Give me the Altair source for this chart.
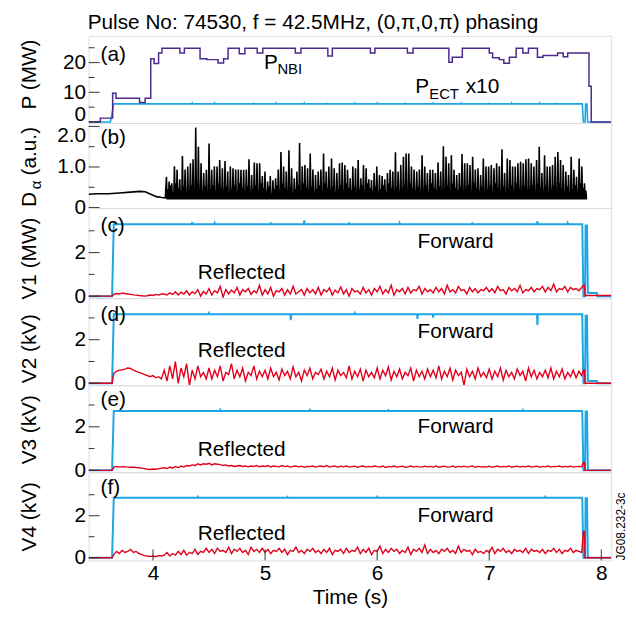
import altair as alt
import numpy as np
import pandas as pd

FONT = "Liberation Sans"
BLUE = "#1ba6e4"
PURPLE = "#4b2a8c"
RED = "#e2001c"
FRAME = "#333333"

X_DOMAIN = [3.426, 8.088]
X_TICKS = [4, 5, 6, 7, 8]
WIDTH = 528
HEIGHTS = [88, 86, 91, 88, 88, 89]

TITLE = "Pulse No: 74530, f = 42.5MHz, (0,π,0,π) phasing"
PANEL_LABELS = ["(a)", "(b)", "(c)", "(d)", "(e)", "(f)"]
PANEL_LABEL_Y = [19, 15, 18, 17, 15, 16]
Y_TITLES = ["P (MW)", None, "V1 (MW)", "V2 (kV)", "V3 (kV)", "V4 (kV)"]
Y_TITLE_Y = [39, 44, 51, 51, 45, 45]
Y_TITLE_X = -59
Y_DOMAINS = [[-0.33, 29.0], [-0.012, 2.085], [-0.09, 4.045],
             [-0.09, 3.91], [-0.09, 3.91], [-0.127, 4.07]]
Y_MAJOR = [[0, 10, 20], [0, 1, 2], [0, 2], [0, 2], [0, 2], [0, 2]]
Y_MINOR = [[5, 15, 25], [0.5, 1.5], [1, 3], [1, 3], [1, 3], [1, 3]]

# ---------------- (a) NBI power (step) and ECRH power x10 ----------------
nbi_t = [3.426, 3.53, 3.64, 3.67, 3.88, 3.93, 3.98, 4.01, 4.05, 4.08, 4.24, 4.28,
         4.42, 4.48, 4.58, 4.63, 4.67, 4.77, 4.82, 4.93, 4.98, 5.27, 5.32, 5.56,
         5.60, 5.94, 5.98, 6.27, 6.32, 6.64, 6.67, 6.76, 7.00, 7.03, 7.09, 7.13,
         7.18, 7.24, 7.30, 7.35, 7.43, 7.48, 7.61, 7.66, 7.70, 7.89, 7.91, 8.088]
nbi_v = [0.0, 1.3, 9.7, 8.0, 6.6, 8.0, 21.3, 19.7, 23.2, 24.8, 23.2, 24.8,
         21.3, 21.0, 19.9, 21.3, 24.8, 23.0, 24.8, 23.2, 24.8, 23.2, 24.8, 22.2,
         24.8, 23.2, 24.8, 23.2, 24.8, 20.1, 21.8, 24.8, 23.2, 21.6, 21.0, 19.8,
         21.8, 24.8, 23.2, 24.8, 21.8, 22.4, 23.2, 22.0, 23.2, 12.0, 0.0, 0.0]

ect_level = 6.1
ect_pre_t = [3.426, 3.62, 3.635]
ect_pre_v = [0.0, 0.0, 3.0]
ect_spike_t = [4.35, 4.55, 4.9, 5.1, 5.35, 5.55, 5.8, 6.0, 6.25, 6.5, 6.75, 7.0, 7.2, 7.45, 7.6]
ect_spike_v = [6.4, 6.4, 6.3, 6.4, 6.4, 6.3, 6.4, 6.4, 6.3, 6.4, 6.4, 6.3, 6.4, 6.4, 6.3]
ect_post_t = [7.84, 7.855, 7.86, 7.872, 7.878, 8.088]
ect_post_v = [0.0, 0.0, 6.0, 6.0, 0.0, 0.0]

# ---------------- (b) D-alpha ----------------
dal_pre_t = [3.426, 3.5, 3.6, 3.7, 3.8, 3.88, 3.93, 3.98, 4.03, 4.08, 4.11]
dal_pre_v = [0.33, 0.34, 0.34, 0.36, 0.38, 0.40, 0.39, 0.33, 0.27, 0.25, 0.24]
dal_spikes = [0.76, 0.64, 0.60, 1.02, 0.93, 0.70, 1.27, 0.94, 1.01, 1.09,
              1.19, 1.97, 1.50, 1.09, 0.85, 0.93, 1.58, 0.93, 1.02, 1.01,
              1.17, 0.97, 1.15, 0.89, 1.01, 0.97, 0.94, 0.94, 0.93, 0.93,
              0.94, 1.19, 0.80, 1.11, 1.09, 1.09, 0.78, 0.89, 0.64, 0.78,
              0.67, 0.72, 0.94, 1.37, 1.01, 0.89, 1.41, 0.97, 0.72, 0.89,
              1.59, 1.02, 1.05, 0.97, 1.33, 0.94, 0.80, 0.89, 0.94, 1.33,
              0.89, 1.01, 1.21, 0.97, 0.85, 1.09, 1.11,
              1.05, 0.93, 0.72, 1.01, 0.97, 1.17, 0.72, 1.05, 0.97, 0.70,
              0.68, 0.85, 1.01, 0.80, 0.78, 0.70, 0.85, 0.93, 0.89, 1.36,
              0.89, 1.05, 1.25, 1.33, 1.33, 1.01, 0.94, 0.89, 0.94, 1.29,
              1.01, 0.85, 0.93, 0.93, 0.85, 1.11, 0.89, 1.51, 1.25, 1.09,
              1.29, 0.93, 0.80, 0.85, 1.32, 1.09, 1.09, 1.05, 1.25, 0.94,
              0.97, 0.80, 1.21, 1.01, 1.01, 1.05, 0.97, 1.09, 1.02, 1.44,
              0.85, 1.21, 1.17, 1.01, 1.01, 1.09, 1.13, 1.09, 1.19, 1.21,
              1.09, 1.01, 1.17, 1.50, 0.85, 1.29, 1.01, 1.01, 1.05, 1.25,
              1.37, 1.17, 1.05, 0.89, 0.80, 1.25, 0.93, 0.76, 1.21, 1.01, 0.60]
DAL_BASE = 0.2
DAL_FILL = [0.45, 0.55, 0.38, 0.6, 0.48, 0.42, 0.52, 0.35]
DAL_START, DAL_END = 4.12, 7.85

# ---------------- (c)-(f) forward (blue) and reflected (red) ----------------
PRE_T = [3.426, 3.635]
PRE_V = [0.0, 0.0]
FWD_START, FWD_END = 3.65, 7.83
fwd_levels = [3.3, 3.17, 2.73, 2.86]
fwd_spike_t = [[4.35, 4.55, 5.05, 5.35, 5.75, 6.2, 6.85, 7.43, 7.7],
               [4.5, 5.23, 5.8, 6.36, 6.5, 7.43],
               [4.6, 5.4, 6.1, 7.3],
               [4.4, 5.2, 6.0, 7.5]]
fwd_spike_v = [[3.4, 3.36, 3.38, 3.48, 3.38, 3.36, 3.38, 3.45, 3.36],
               [3.22, 2.9, 3.22, 2.95, 3.02, 2.68],
               [2.78, 2.77, 2.76, 2.77],
               [2.9, 2.89, 2.9, 2.9]]
fwd_post_t = [7.84, 7.855, 7.86, 7.872, 7.88, 7.96, 7.965, 8.088]
fwd_post_v = [[0.0, 0.0, 3.25, 3.25, 0.15, 0.15, 0.0, 0.0],
              [0.0, 0.0, 3.1, 3.1, 0.1, 0.1, 0.0, 0.0],
              [0.0, 0.0, 2.7, 2.7, 0.0, 0.0, 0.0, 0.0],
              [0.0, 0.0, 2.83, 2.83, 0.0, 0.0, 0.0, 0.0]]

REF_START, REF_STEP = 3.65, 0.025
ref_c = [0.08, 0.12, 0.1, 0.14, 0.12, 0.1, 0.08, 0.06, 0.05, 0.03,
         0.02, 0.0, 0.02, 0.05, 0.03, 0.08, 0.05, 0.1,
         0.1, 0.05, 0.15, 0.08, 0.2, 0.05, 0.18, 0.1, 0.25, 0.05, 0.2, 0.12, 0.3, 0.0, 0.22, 0.1,
         0.35, 0.05, 0.25, 0.15, 0.45, -0.05, 0.3, 0.1, 0.28, 0.15, 0.4, 0.05, 0.3, 0.2, 0.35, 0.08, 0.25, 0.15, 0.5, 0.05,
         0.3, 0.1, 0.4, 0.0, 0.25, 0.2, 0.35, 0.05, 0.3, 0.1, 0.45, 0.1, 0.2, 0.3, 0.05, 0.35, 0.15, 0.3, 0.1, 0.4,
         0.05, 0.3, 0.2, 0.38, 0.05, 0.28, 0.15, 0.42, 0.1, 0.3, 0.0, 0.35, 0.2, 0.25, 0.1, 0.4, 0.15, 0.3, 0.05, 0.35,
         0.2, 0.45, 0.1, 0.3, 0.15, 0.5, 0.05, 0.3, 0.2, 0.35, 0.1, 0.4, 0.15, 0.3, 0.25, 0.45, 0.1, 0.35, 0.2, 0.3,
         0.15, 0.4, 0.2, 0.35, 0.1, 0.5, 0.2, 0.3, 0.15, 0.45, 0.25, 0.3, 0.1, 0.4, 0.2, 0.35, 0.15, 0.3, 0.25, 0.4,
         0.2, 0.35, 0.15, 0.45, 0.25, 0.3, 0.1, 0.4, 0.25, 0.35, 0.2, 0.5, 0.15, 0.3, 0.25, 0.4, 0.2, 0.35, 0.3, 0.45,
         0.2, 0.4, 0.25, 0.55, 0.2, 0.35, 0.3, 0.45, 0.2, 0.4, 0.3, 0.35, 0.25, 0.4]
ref_d = [0.45, 0.55, 0.6, 0.62, 0.65, 0.7, 0.68, 0.6, 0.55, 0.5,
         0.45, 0.4, 0.35, 0.3, 0.35, 0.25, 0.3, 0.2,
         0.6, 0.1, 0.8, 0.2, 1.0, 0.0, 0.7, 0.3, 0.9, -0.1, 0.6, 0.2, 0.8, 0.3, 0.5, 0.2,
         0.7, 0.2, 0.6, 0.3, 0.8, 0.1, 0.5, 0.4, 0.9, 0.2, 0.6, 0.3, 0.7, 0.1, 0.5, 0.35, 0.8, 0.2, 0.55, 0.3,
         0.6, 0.2, 0.7, 0.3, 0.5, 0.15, 0.65, 0.35, 0.55, 0.2, 0.75, 0.3, 0.5, 0.1, 0.6, 0.35, 0.7, 0.2, 0.5, 0.4,
         0.65, 0.2, 0.55, 0.3, 0.7, 0.15, 0.6, 0.35, 0.5, 0.25, 0.8, 0.2, 0.55, 0.3, 0.65, 0.1, 0.6, 0.3, 0.5, 0.25,
         0.7, 0.2, 0.6, 0.35, 0.75, 0.15, 0.55, 0.3, 0.65, 0.2, 0.5, 0.35, 0.7, 0.1, 0.6, 0.3, 0.55, 0.2, 0.65, 0.3,
         0.6, 0.25, 0.8, 0.2, 0.55, 0.3, 0.7, 0.15, 0.6, 0.35, 0.5, -0.1, 0.65, 0.3, 0.55, 0.2, 0.7, 0.3, 0.5, 0.25,
         0.65, 0.2, 0.55, 0.3, 0.7, 0.15, 0.6, 0.3, 0.5, 0.2, 0.65, 0.35, 0.55, 0.1, 0.7, 0.3, 0.6, 0.2, 0.5, 0.3,
         0.6, 0.25, 0.7, 0.2, 0.55, 0.3, 0.65, 0.2, 0.5, 0.3, 0.6, 0.25, 0.55, 0.35]
ref_e = [0.15, 0.18, 0.15, 0.17, 0.16, 0.15, 0.14, 0.15, 0.13, 0.12,
         0.1, 0.08, 0.05, 0.04, 0.06, 0.05, 0.08, 0.1,
         0.12, 0.08, 0.15, 0.1, 0.18, 0.12, 0.2, 0.15, 0.22, 0.2, 0.25, 0.22, 0.3, 0.25, 0.3, 0.28,
         0.32, 0.25, 0.3, 0.28, 0.26, 0.22, 0.25, 0.2, 0.22, 0.18, 0.2, 0.22, 0.18, 0.2, 0.16, 0.2, 0.18, 0.22, 0.16, 0.2,
         0.18, 0.22, 0.15, 0.2, 0.18, 0.16, 0.22, 0.17, 0.2, 0.15, 0.18, 0.2, 0.16, 0.19, 0.14, 0.18, 0.17, 0.2, 0.15, 0.18,
         0.2, 0.16, 0.22, 0.15, 0.18, 0.2, 0.14, 0.19, 0.16, 0.2, 0.15, 0.17, 0.19, 0.14, 0.18, 0.2, 0.15, 0.18, 0.16, 0.2,
         0.17, 0.15, 0.2, 0.13, 0.18, 0.16, 0.2, 0.15, 0.17, 0.19, 0.14, 0.16, 0.2, 0.15, 0.18, 0.16, 0.15, 0.19, 0.16, 0.18,
         0.15, 0.2, 0.14, 0.17, 0.19, 0.15, 0.16, 0.2, 0.14, 0.18, 0.16, 0.19, 0.15, 0.17, 0.2, 0.14, 0.18, 0.16, 0.17, 0.15,
         0.19, 0.14, 0.17, 0.2, 0.15, 0.18, 0.16, 0.2, 0.14, 0.17, 0.19, 0.15, 0.18, 0.16, 0.2, 0.15, 0.17, 0.19, 0.14, 0.18,
         0.16, 0.2, 0.15, 0.18, 0.17, 0.2, 0.15, 0.18, 0.16, 0.19, 0.15, 0.17, 0.18, 0.16]
ref_f = [0.15, 0.3, 0.2, 0.35, 0.25, 0.3, 0.4, 0.25, 0.3, 0.2,
         0.15, 0.1, 0.08, 0.05, 0.08, 0.05, 0.1, 0.08,
         0.12, 0.25, 0.08, 0.2, 0.12, 0.3, 0.15, 0.35, 0.12, 0.25, 0.2, 0.4, 0.15, 0.3, 0.25, 0.45,
         0.25, 0.4, 0.2, 0.45, 0.3, 0.35, 0.25, 0.5, 0.2, 0.4, 0.3, 0.45, 0.25, 0.35, 0.15, 0.5, 0.3, 0.4, 0.25, 0.45,
         0.25, 0.4, 0.2, 0.35, 0.3, 0.45, 0.25, 0.4, 0.15, 0.35, 0.3, 0.5, 0.25, 0.35, 0.2, 0.4, 0.3, 0.45, 0.25, 0.35,
         0.2, 0.4, 0.25, 0.45, 0.15, 0.35, 0.3, 0.4, 0.2, 0.45, 0.25, 0.35, 0.3, 0.5, 0.2, 0.4, 0.25, 0.45, 0.15, 0.35,
         0.3, 0.55, 0.2, 0.4, 0.25, 0.45, 0.3, 0.4, 0.2, 0.35, 0.25, 0.5, 0.15, 0.4, 0.3, 0.45, 0.25, 0.6, 0.2, 0.4,
         0.25, 0.35, 0.2, 0.4, 0.3, 0.45, 0.25, 0.35, 0.2, 0.55, 0.25, 0.4, 0.3, 0.35, 0.15, 0.4, 0.25, 0.3, 0.2, 0.35,
         0.25, 0.5, 0.2, 0.4, 0.3, 0.45, 0.25, 0.35, 0.2, 0.4, 0.3, 0.35, 0.25, 0.45, 0.2, 0.4, 0.3, 0.35, 0.25, 0.4,
         0.2, 0.35, 0.3, 0.45, 0.25, 0.4, 0.2, 0.35, 0.3, 0.45, 0.25, 0.35, 0.3, 0.25]
ref_post_t = [7.84, 7.85, 7.855, 8.088]
ref_post_v = [[0.5, 0.5, 0.03, 0.03],
              [0.6, 0.6, 0.0, 0.0],
              [0.35, 0.35, 0.0, 0.0],
              [1.25, 1.25, 0.0, 0.0]]

# ---------------- annotations (data coordinates) ----------------
FWD_LABEL_T = 6.36
FWD_LABEL_V = [2.2, 2.1, 1.73, 1.7]
REF_LABEL_T = 4.40
REF_LABEL_V = [0.8, 1.2, 0.68, 0.83]


def grid_df(pre_t, pre_v, start, step, vals, post_t, post_v):
    t = list(pre_t) + [round(start + i * step, 4) for i in range(len(vals))] + list(post_t)
    v = list(pre_v) + list(vals) + list(post_v)
    return pd.DataFrame({"t": t, "v": v})


def flat_df(pre_t, pre_v, start, end, level, sp_t, sp_v, post_t, post_v):
    t = list(pre_t) + [start]
    v = list(pre_v) + [level]
    for st, sv in zip(sp_t, sp_v):
        t += [st - 0.004, st, st + 0.004]
        v += [level, sv, level]
    t += [end] + list(post_t)
    v += [level] + list(post_v)
    return pd.DataFrame({"t": t, "v": v})


def dalpha_df():
    t = list(dal_pre_t)
    v = list(dal_pre_v)
    times = np.linspace(DAL_START, DAL_END, len(dal_spikes))
    for i, (ti, h) in enumerate(zip(times, dal_spikes)):
        t += [ti, ti + 0.006, ti + 0.012, ti + 0.018]
        v += [h, DAL_BASE, DAL_FILL[i % len(DAL_FILL)], DAL_BASE]
    return pd.DataFrame({"t": t, "v": v})


def xenc(field, bottom):
    if bottom:
        axis = alt.Axis(values=X_TICKS, format="d", ticks=False, domain=False, grid=False,
                        labelFont=FONT, labelFontSize=21, labelColor="black", labelPadding=2,
                        title="Time (s)", titleFont=FONT, titleFontSize=21,
                        titleFontWeight="normal", titleColor="black", titlePadding=4)
    else:
        axis = None
    return alt.X(f"{field}:Q", scale=alt.Scale(domain=X_DOMAIN, nice=False, zero=False), axis=axis)


def yenc(i):
    kw = dict(values=Y_MAJOR[i], ticks=False, domain=False, grid=False, labelFont=FONT,
              labelFontSize=21, labelColor="black", labelPadding=3, title=None,
              labelOverlap=False)
    if i == 0:
        kw["labelOffset"] = {"condition": {"test": "datum.value == 0", "value": -7}, "value": 0}
    if i == 1:
        kw["labelExpr"] = "datum.value == 0 ? '0' : format(datum.value, '.1f')"
        kw["labelOffset"] = {"condition": {"test": "datum.value == 2", "value": 9}, "value": 0}
    return alt.Y("v:Q", scale=alt.Scale(domain=Y_DOMAINS[i], nice=False, zero=False),
                 axis=alt.Axis(**kw))


def line(df, i, color, width=1.5, bottom=False, interp=None):
    kw = dict(color=color, strokeWidth=width, clip=True)
    if interp:
        kw["interpolate"] = interp
    return alt.Chart(df).mark_line(**kw).encode(x=xenc("t", bottom), y=yenc(i))


def text_data(df, i, size=21, bottom=False, align="left"):
    return alt.Chart(df).mark_text(align=align, baseline="alphabetic", fontSize=size,
                                   font=FONT, color="black").encode(
        x=xenc("t", bottom), y=yenc(i), text="label:N")


def fixed_text(txt, x, y, size=21, angle=0, align="left", baseline="middle"):
    kw = dict(align=align, baseline=baseline, fontSize=size, font=FONT, color="black")
    if angle:
        kw["angle"] = angle
    return alt.Chart(pd.DataFrame({"label": [txt]})).mark_text(**kw).encode(
        x=alt.value(x), y=alt.value(y), text="label:N")


def ticks(i):
    maj = alt.Chart(pd.DataFrame({"v": Y_MAJOR[i]})).mark_rule(color=FRAME, strokeWidth=1).encode(
        y=yenc(i), x=alt.value(0), x2=alt.value(11))
    mnr = alt.Chart(pd.DataFrame({"v": Y_MINOR[i]})).mark_rule(color=FRAME, strokeWidth=1).encode(
        y=yenc(i), x=alt.value(0), x2=alt.value(6))
    return [maj, mnr]


def frame_texts(i):
    out = [fixed_text(PANEL_LABELS[i], 12, PANEL_LABEL_Y[i])]
    if Y_TITLES[i]:
        out.append(fixed_text(Y_TITLES[i], Y_TITLE_X, Y_TITLE_Y[i], angle=270, align="center"))
    return out


panels = []

# (a)
i = 0
ect_df = flat_df(ect_pre_t, ect_pre_v, FWD_START, 7.83, ect_level, ect_spike_t, ect_spike_v,
                 ect_post_t, ect_post_v)
nbi_df = pd.DataFrame({"t": nbi_t, "v": nbi_v})
ann_a_big = pd.DataFrame({"t": [4.99, 6.34, 6.79], "v": [18.0, 9.67, 9.67],
                          "label": ["P", "P", "x10"]})
ann_a_sub = pd.DataFrame({"t": [5.11, 6.465], "v": [16.3, 7.8], "label": ["NBI", "ECT"]})
layers = [line(ect_df, i, BLUE, 1.6), line(nbi_df, i, PURPLE, 1.5, interp="step-after"),
          text_data(ann_a_big, i), text_data(ann_a_sub, i, size=15)]
layers += ticks(i) + frame_texts(i)
layers.append(fixed_text(TITLE, -1, -7, baseline="alphabetic"))
panels.append(alt.layer(*layers).properties(width=WIDTH, height=HEIGHTS[i]))

# (b)
i = 1
layers = [line(dalpha_df(), i, "black", 1.6)] + ticks(i) + frame_texts(i)
layers += [fixed_text("D", Y_TITLE_X, 85, angle=270),
           fixed_text("α", Y_TITLE_X + 6, 67, size=15, angle=270),
           fixed_text("(a.u.)", Y_TITLE_X, 53, angle=270)]
panels.append(alt.layer(*layers).properties(width=WIDTH, height=HEIGHTS[i]))

# (c)-(f)
refs = [ref_c, ref_d, ref_e, ref_f]
for k in range(4):
    i = k + 2
    bottom = i == 5
    fdf = flat_df(PRE_T, PRE_V, FWD_START, FWD_END, fwd_levels[k], fwd_spike_t[k],
                  fwd_spike_v[k], fwd_post_t, fwd_post_v[k])
    rdf = grid_df(PRE_T, PRE_V, REF_START, REF_STEP, refs[k], ref_post_t, ref_post_v[k])
    ann = pd.DataFrame({"t": [FWD_LABEL_T, REF_LABEL_T], "v": [FWD_LABEL_V[k], REF_LABEL_V[k]],
                        "label": ["Forward", "Reflected"]})
    layers = [line(fdf, i, BLUE, 2.0, bottom), line(rdf, i, RED, 1.4, bottom),
              text_data(ann, i, bottom=bottom)]
    layers += ticks(i) + frame_texts(i)
    if bottom:
        layers.append(alt.Chart(pd.DataFrame({"t": X_TICKS})).mark_rule(color=FRAME, strokeWidth=1).encode(
            x=xenc("t", True), y=alt.value(HEIGHTS[i]), y2=alt.value(HEIGHTS[i] - 11)))
        layers.append(fixed_text("JG08.232-3c", 542, HEIGHTS[i], size=12, angle=270,
                                 baseline="alphabetic"))
    panels.append(alt.layer(*layers).properties(width=WIDTH, height=HEIGHTS[i]))

chart = alt.vconcat(*panels, spacing=0, bounds="flush").properties(
    padding={"left": 10.5, "top": 0, "right": 0, "bottom": 0}
).configure_view(stroke=FRAME, strokeWidth=1).configure(font=FONT)

chart.save("out.html", embed_options={"renderer": "svg", "actions": False})
